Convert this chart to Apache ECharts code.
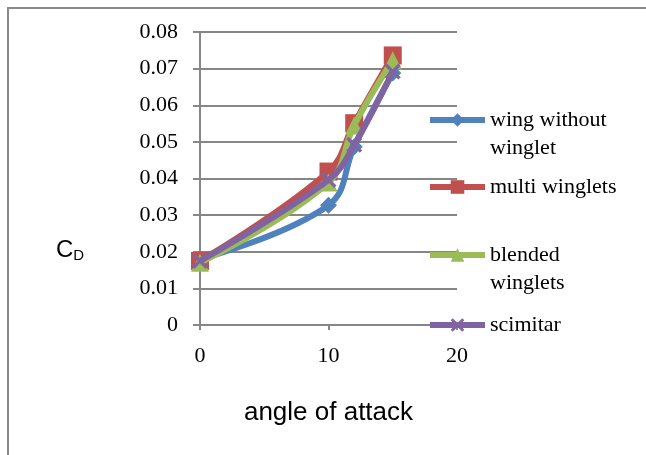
<!DOCTYPE html>
<html><head><meta charset="utf-8">
<script src="https://cdn.jsdelivr.net/npm/echarts@6/dist/echarts.min.js"></script>
<style>html,body{margin:0;padding:0;background:#fff}#c{width:646px;height:455px}</style>
</head><body><div id="c"></div>
<script>
const angles = [0, 10, 12, 15];
const seriesNames = ['wing without\nwinglet', 'multi winglets', 'blended\nwinglets', 'scimitar'];
const wingWithout = [0.018, 0.0327, 0.0487, 0.0688];
const multiWinglets = [0.0175, 0.0419, 0.0551, 0.0736];
const blendedWinglets = [0.017, 0.0389, 0.0545, 0.0723];
const scimitar = [0.0175, 0.0396, 0.0492, 0.0692];
const yTicks = [0, 0.01, 0.02, 0.03, 0.04, 0.05, 0.06, 0.07, 0.08];
const xTicks = [0, 10, 20];

const colors = ['#4F81BD', '#C0504D', '#9BBB59', '#8064A2'];
const xPath = 'path://M0,1.5 L1.5,0 L5,3.5 L8.5,0 L10,1.5 L6.5,5 L10,8.5 L8.5,10 L5,6.5 L1.5,10 L0,8.5 L3.5,5 Z';
const symbols = ['diamond', 'rect', 'triangle', xPath];
const sizes = [17, 18, 18, 16];
const allData = [wingWithout, multiWinglets, blendedWinglets, scimitar];

const serif = 'Liberation Serif';
const chart = echarts.init(document.getElementById('c'));
const legendTops = [78, 173, 213, 311];
const legends = seriesNames.map((n, i) => ({
  left: 427, top: legendTops[i], padding: 0,
  orient: 'vertical', itemWidth: 55, itemHeight: 17, itemGap: 0,
  data: [n],
  formatter: name => name.indexOf('\n') >= 0 ? ' \n' + name : name,
  textStyle: { fontFamily: serif, fontSize: 22, color: '#000', lineHeight: 28 },
  lineStyle: { width: 6 },
  selectedMode: false
}));
chart.setOption({
  animation: false,
  graphic: [
    { type: 'rect', shape: { x: 8, y: 8, width: 700, height: 500 }, style: { fill: 'none', stroke: '#8a8a8a', lineWidth: 2 }, silent: true },
    { type: 'text', left: 56, top: 238, style: { text: '{c|C}{d|D}', rich: {
      c: { fontFamily: 'Liberation Sans', fontSize: 24, fill: '#000' },
      d: { fontFamily: 'Liberation Sans', fontSize: 15, fill: '#000', padding: [12, 0, 0, 0] }
    } } }
  ],
  grid: { left: 200, right: 189, top: 32, bottom: 130 },
  legend: legends,
  xAxis: {
    type: 'value', min: 0, max: 20, interval: 10,
    name: 'angle of attack', nameLocation: 'middle', nameGap: 75,
    nameTextStyle: { fontFamily: 'Liberation Sans', fontSize: 26, color: '#000' },
    axisLine: { lineStyle: { color: '#868686', width: 2 } },
    axisTick: { show: true, length: 5, lineStyle: { color: '#868686', width: 2 } },
    axisLabel: { margin: 20, fontFamily: serif, fontSize: 22, color: '#000' },
    splitLine: { show: false }
  },
  yAxis: {
    type: 'value', min: 0, max: 0.08, interval: 0.01,
    axisLine: { show: true, lineStyle: { color: '#868686', width: 2 } },
    axisTick: { show: true, length: 7, lineStyle: { color: '#868686', width: 2 } },
    axisLabel: { margin: 22, fontFamily: serif, fontSize: 22, color: '#000',
      formatter: v => v === 0 ? '0' : v.toFixed(2) },
    splitLine: { show: true, lineStyle: { color: '#868686', width: 2 } }
  },
  series: allData.map((d, i) => ({
    name: seriesNames[i], type: 'line', smooth: 0.4,
    data: d.map((v, j) => [angles[j], v]),
    symbol: symbols[i], symbolSize: sizes[i],
    lineStyle: { color: colors[i], width: 6 },
    itemStyle: { color: colors[i] },
    z: 2 + i
  }))
});
</script></body></html>
